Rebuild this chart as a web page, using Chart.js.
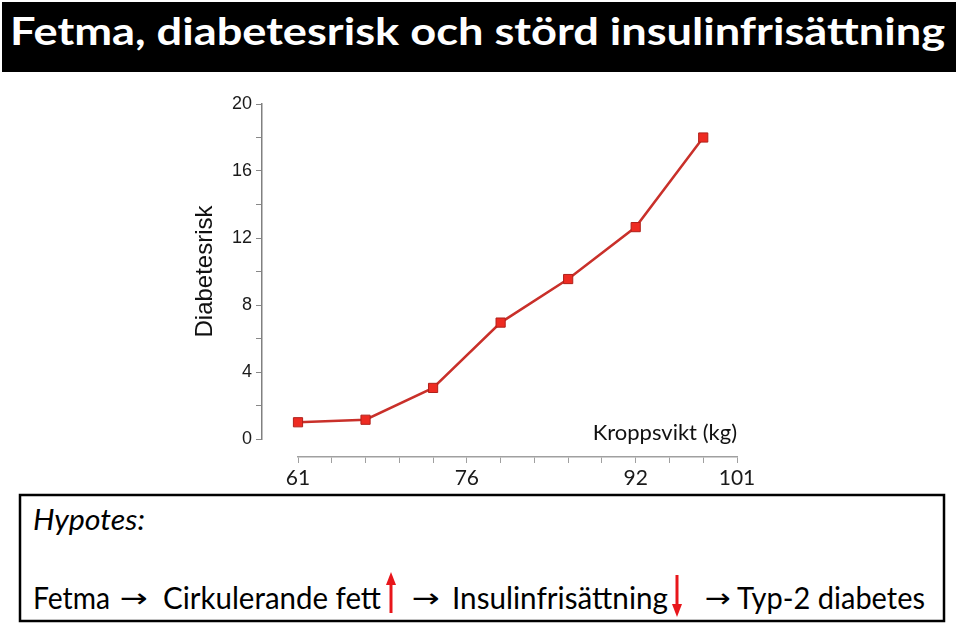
<!DOCTYPE html>
<html>
<head>
<meta charset="utf-8">
<script src="https://cdn.jsdelivr.net/npm/chart.js@4/dist/chart.umd.min.js"></script>
<style>
  body { margin: 0; background: #fff; width: 960px; height: 625px; overflow: hidden; position: relative; }
  #deco { position: absolute; left: 0; top: 0; }
  #plot { position: absolute; left: 0; top: 80px; }
</style>
</head>
<body>
<svg id="deco" width="960" height="625" font-family="Lato, 'Open Sans', sans-serif">
  <!-- title bar -->
  <rect x="2" y="2" width="954" height="70" fill="#000"/>
  <text x="10" y="45" fill="#fff" font-weight="bold" font-size="38" textLength="935" lengthAdjust="spacingAndGlyphs">Fetma, diabetesrisk och störd insulinfrisättning</text>
  <!-- hypothesis box -->
  <rect x="20" y="495" width="924" height="126" fill="none" stroke="#000" stroke-width="2.5"/>
  <text x="33" y="530" font-style="italic" font-size="28" textLength="112" lengthAdjust="spacingAndGlyphs">Hypotes:</text>
  <g font-size="30" fill="#000">
    <text x="33" y="609" textLength="77" lengthAdjust="spacingAndGlyphs">Fetma</text>
    <text x="120" y="607" font-family="'DejaVu Sans'" font-size="26" textLength="28" lengthAdjust="spacingAndGlyphs">→</text>
    <text x="163" y="609" textLength="218" lengthAdjust="spacingAndGlyphs">Cirkulerande fett</text>
    <text x="412" y="607" font-family="'DejaVu Sans'" font-size="26" textLength="28" lengthAdjust="spacingAndGlyphs">→</text>
    <text x="452" y="609" textLength="216" lengthAdjust="spacingAndGlyphs">Insulinfrisättning</text>
    <text x="705" y="607" font-family="'DejaVu Sans'" font-size="26" textLength="26" lengthAdjust="spacingAndGlyphs">→</text>
    <text x="737" y="609" textLength="188" lengthAdjust="spacingAndGlyphs">Typ-2 diabetes</text>
  </g>
  <!-- red up / down arrows -->
  <line x1="391" y1="613" x2="391" y2="582" stroke="#e8161b" stroke-width="3"/>
  <polygon points="386,585 391,572 396,585" fill="#e8161b"/>
  <line x1="677" y1="575" x2="677" y2="606" stroke="#e8161b" stroke-width="3"/>
  <polygon points="672,604 677,617 682,604" fill="#e8161b"/>
</svg>
<canvas id="plot" width="960" height="420"></canvas>
<script>
// body weight (kg) along the x axis, one slot per minor tick
const weightLabels = ['61', '', '', '', '', '76', '', '', '', '', '92', '', '', '101'];
// diabetes risk (null = no point at that tick)
const riskValues = [1.0, null, 1.15, null, 3.05, null, 6.95, null, 9.55, null, 12.65, null, 18.0, null];
// labelled y ticks
const riskTicks = [0, 4, 8, 12, 16, 20];

const ctx = document.getElementById('plot').getContext('2d');
const riskChart = new Chart(ctx, {
    type: 'line',
    data: {
        labels: weightLabels,
        datasets: [{
            label: 'Diabetesrisk',
            data: riskValues,
            spanGaps: true,
            borderColor: '#c9302a',
            borderWidth: 2.5,
            pointStyle: 'rect',
            pointRadius: 6.5,
            pointBackgroundColor: '#ee2b22',
            pointBorderColor: '#b0201a',
            pointBorderWidth: 1,
            xAxisID: 'x',
            yAxisID: 'y'
        }]
    },
    options: {
        responsive: false,
        animation: false,
        layout: { padding: { left: 191, right: 223, top: 24, bottom: 3 } },
        plugins: {
            legend: { display: false },
            tooltip: { enabled: false }
        },
        scales: {
            x: {
                type: 'category',
                position: 'bottom',
                weight: 2,
                offset: false,
                grid: { drawOnChartArea: false, tickLength: 6, color: '#a0a0a0' },
                border: { color: '#a0a0a0', width: 1.5 },
                ticks: {
                    autoSkip: false, maxRotation: 0, padding: 3,
                    color: '#1a1a1a', font: { family: 'Lato', size: 21 }
                },
                afterFit(s) { s.height = 40; }
            },
            // empty spacer under the plot, carries the axis title
            xGap: {
                type: 'linear',
                axis: 'x',
                position: 'bottom',
                weight: 1,
                grid: { display: false },
                border: { display: false },
                ticks: { display: false },
                title: {
                    display: true, text: 'Kroppsvikt (kg)', align: 'end',
                    color: '#111', font: { family: 'Lato', size: 22 },
                    padding: { top: 0, bottom: 11 }
                },
                afterFit(s) { s.height = 18; }
            },
            y: {
                position: 'left',
                weight: 2,
                min: 0,
                max: 20,
                grid: { drawOnChartArea: false, tickLength: 6, color: '#888' },
                border: { color: '#808080', width: 1.5 },
                ticks: {
                    stepSize: 2, autoSkip: false, padding: 4,
                    color: '#1a1a1a', font: { family: 'Liberation Sans', size: 18 },
                    callback: v => riskTicks.includes(v) ? v : ''
                },
                title: {
                    display: true, text: 'Diabetesrisk', color: '#111',
                    font: { family: 'Liberation Sans', size: 24 }, padding: 0
                },
                afterFit(s) { s.width = 71; }
            },
            // spacer between y axis and first point
            yGap: {
                type: 'linear',
                axis: 'y',
                position: 'left',
                weight: 1,
                grid: { display: false },
                border: { display: false },
                ticks: { display: false },
                afterFit(s) { s.width = 36; }
            }
        }
    }
});
</script>
</body>
</html>
